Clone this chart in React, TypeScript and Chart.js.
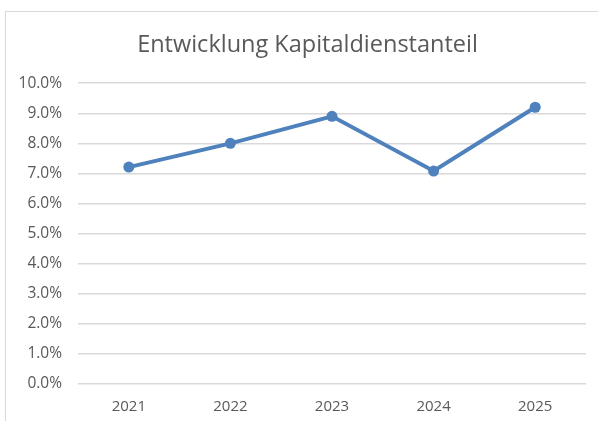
import React, { useEffect, useRef } from "react";
import { Chart, registerables } from "chart.js";

Chart.register(...registerables);

const titleText = "Entwicklung Kapitaldienstanteil";
const years = ["2021", "2022", "2023", "2024", "2025"];
const shares = [0.0721, 0.08, 0.089, 0.0708, 0.092];
const yMin = 0;
const yMax = 0.1;
const yStep = 0.01;

const FONT = "'Open Sans', sans-serif";
const TEXT = "#595959";

export default function App() {
  const ref = useRef<HTMLCanvasElement | null>(null);

  useEffect(() => {
    if (!ref.current) return;
    const chart = new Chart(ref.current, {
      type: "line",
      data: {
        labels: years,
        datasets: [
          {
            data: shares,
            borderColor: "#4f81bd",
            backgroundColor: "#4f81bd",
            borderWidth: 4,
            pointRadius: 5.5,
            pointHoverRadius: 5.5,
            pointBorderWidth: 0,
            tension: 0,
          },
        ],
      },
      options: {
        responsive: false,
        animation: false,
        layout: { padding: { left: 0, right: 0, top: 0, bottom: 0 } },
        plugins: {
          legend: { display: false },
          tooltip: { enabled: false },
          title: {
            display: true,
            text: titleText,
            color: TEXT,
            font: { family: FONT, size: 23.5, weight: "normal" },
            padding: { top: 31, bottom: 24 },
          },
        },
        scales: {
          x: {
            offset: true,
            grid: { display: false, drawTicks: false },
            border: { display: false },
            ticks: { color: TEXT, font: { family: FONT, size: 15 }, padding: 14 },
            afterFit: (s: any) => {
              s.height = 37;
            },
          },
          y: {
            min: yMin,
            max: yMax,
            grid: { color: "#d9d9d9", lineWidth: 1.5, drawTicks: false },
            border: { display: false },
            ticks: {
              stepSize: yStep,
              color: TEXT,
              font: { family: FONT, size: 15.5 },
              padding: 16,
              callback: (v: any) => (Number(v) * 100).toFixed(1) + "%",
            },
            afterFit: (s: any) => {
              s.width = 78;
            },
          },
          gap: {
            type: "linear",
            position: "right",
            display: true,
            grid: { display: false, drawTicks: false },
            border: { display: false },
            ticks: { display: false },
            afterFit: (s: any) => {
              s.width = 29;
            },
          },
        },
      },
    });
    return () => chart.destroy();
  }, []);

  return (
    <div style={{ position: "absolute", left: 0, top: 0, width: 598, height: 421, overflow: "hidden", background: "#fff" }}>
      <div
        style={{
          position: "absolute",
          left: 5,
          top: 11,
          width: 620,
          height: 440,
          border: "1px solid #d9d9d9",
        }}
      />
      <canvas ref={ref} width={615} height={421} style={{ position: "absolute", left: 0, top: 0 }} />
    </div>
  );
}
